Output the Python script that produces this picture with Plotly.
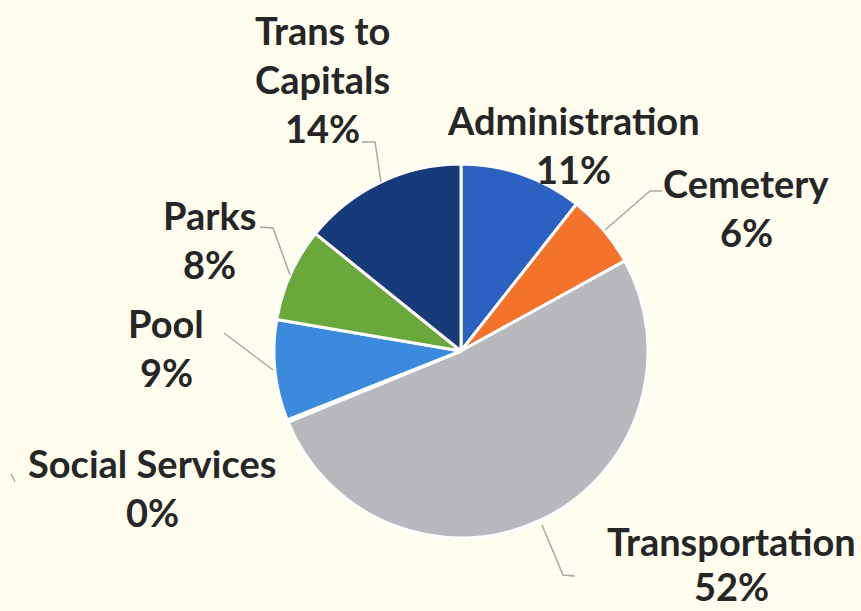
import plotly.graph_objects as go

categories = ["Administration", "Cemetery", "Transportation", "Social Services", "Pool", "Parks", "Trans to Capitals"]
values = [10.6, 6.4, 51.8, 0.2, 8.7, 8.1, 14.2]
pct_labels = ["11%", "6%", "52%", "0%", "9%", "8%", "14%"]
name_lines = [["Administration"], ["Cemetery"], ["Transportation"], ["Social Services"], ["Pool"], ["Parks"], ["Trans to", "Capitals"]]
colors = ["#2B62C2", "#F4722B", "#B8B9BC", "#A5A5A5", "#3D89DE", "#6BA83B", "#173A78"]

W, H = 861, 611
BG = "#FEFDEE"
TXT = "#262626"
FONT = "Lato"

# label anchor (x centre, y of first line, line gap) in pixels
label_pos = {
    "Administration": (573, 120, 49),
    "Cemetery": (746, 183, 49),
    "Transportation": (731, 541, 45),
    "Social Services": (152, 463, 49),
    "Pool": (166, 323, 49),
    "Parks": (209, 215, 49),
    "Trans to Capitals": (322, 30, 49),
}

leaders = [
    [(362, 142), (375, 142), (381, 182)],
    [(605, 230), (650, 191), (662, 191)],
    [(260, 227), (273, 228), (290, 275)],
    [(224, 333), (273, 370)],
    [(542, 525), (563, 575), (575, 576)],
    [(11, 474), (15, 482)],
]

cx, cy, r = 461, 351, 187

fig = go.Figure(go.Pie(
    labels=categories,
    values=values,
    sort=False,
    direction="clockwise",
    rotation=0,
    marker=dict(colors=colors, line=dict(color="#FFFFFF", width=3)),
    textinfo="none",
    hoverinfo="label+percent",
    showlegend=False,
    domain=dict(x=[(cx - r) / W, (cx + r) / W], y=[(H - cy - r) / H, (H - cy + r) / H]),
))

annotations = []
for cat, lines, pct in zip(categories, name_lines, pct_labels):
    x0, y0, gap = label_pos[cat]
    for i, t in enumerate(lines + [pct]):
        annotations.append(dict(
            x=x0 / W, y=1 - (y0 + i * gap) / H, xref="paper", yref="paper",
            text="<b>%s</b>" % t, showarrow=False, xanchor="center", yanchor="middle",
            font=dict(family=FONT, size=38, color=TXT), borderpad=0,
        ))

shapes = []
for pts in leaders:
    path = "M " + " L ".join("%f,%f" % (px / W, 1 - py / H) for px, py in pts)
    shapes.append(dict(type="path", path=path, xref="paper", yref="paper",
                       line=dict(color="#A8A8A8", width=1.5)))

fig.update_layout(
    width=W, height=H,
    margin=dict(l=0, r=0, t=0, b=0),
    paper_bgcolor=BG, plot_bgcolor=BG,
    annotations=annotations, shapes=shapes,
)

fig.write_html(
    "out.html",
    config={"displayModeBar": False},
    post_script="document.body.style.margin='0';document.body.style.background='%s';" % BG,
)
